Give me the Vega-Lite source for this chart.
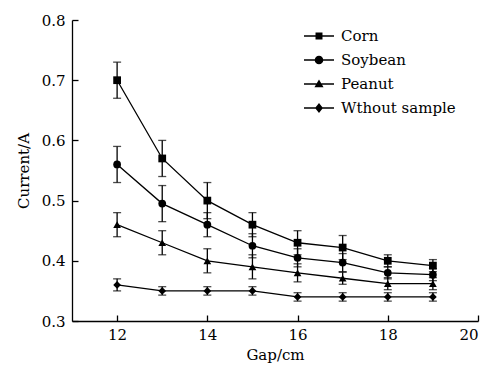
{
  "$schema": "https://vega.github.io/schema/vega-lite/v6.json",
  "autosize": "none",
  "width": 406,
  "height": 301,
  "padding": {"left": 72, "top": 20, "right": 17, "bottom": 46},
  "background": "white",
  "config": {
    "font": "DejaVu Serif",
    "view": {"stroke": null},
    "axis": {
      "grid": false,
      "domainColor": "black",
      "domainWidth": 1.3,
      "tickColor": "black",
      "tickWidth": 1.3,
      "tickSize": -6,
      "labelColor": "black",
      "titleColor": "black",
      "labelFont": "DejaVu Serif",
      "titleFont": "DejaVu Serif",
      "labelFontSize": 15,
      "titleFontSize": 15,
      "titleFontWeight": "normal"
    },
    "legend": {
      "labelFont": "DejaVu Serif",
      "labelFontSize": 15,
      "labelColor": "black"
    }
  },
  "data": {
    "values": [
      {"series": "Corn", "gap": 12, "current": 0.70, "lo": 0.67, "hi": 0.73},
      {"series": "Corn", "gap": 13, "current": 0.57, "lo": 0.54, "hi": 0.60},
      {"series": "Corn", "gap": 14, "current": 0.50, "lo": 0.47, "hi": 0.53},
      {"series": "Corn", "gap": 15, "current": 0.46, "lo": 0.44, "hi": 0.48},
      {"series": "Corn", "gap": 16, "current": 0.43, "lo": 0.41, "hi": 0.45},
      {"series": "Corn", "gap": 17, "current": 0.422, "lo": 0.402, "hi": 0.442},
      {"series": "Corn", "gap": 18, "current": 0.40, "lo": 0.39, "hi": 0.41},
      {"series": "Corn", "gap": 19, "current": 0.392, "lo": 0.382, "hi": 0.402},
      {"series": "Soybean", "gap": 12, "current": 0.56, "lo": 0.53, "hi": 0.59},
      {"series": "Soybean", "gap": 13, "current": 0.495, "lo": 0.465, "hi": 0.525},
      {"series": "Soybean", "gap": 14, "current": 0.46, "lo": 0.44, "hi": 0.48},
      {"series": "Soybean", "gap": 15, "current": 0.425, "lo": 0.405, "hi": 0.445},
      {"series": "Soybean", "gap": 16, "current": 0.405, "lo": 0.39, "hi": 0.42},
      {"series": "Soybean", "gap": 17, "current": 0.397, "lo": 0.382, "hi": 0.412},
      {"series": "Soybean", "gap": 18, "current": 0.38, "lo": 0.37, "hi": 0.39},
      {"series": "Soybean", "gap": 19, "current": 0.377, "lo": 0.367, "hi": 0.387},
      {"series": "Peanut", "gap": 12, "current": 0.46, "lo": 0.44, "hi": 0.48},
      {"series": "Peanut", "gap": 13, "current": 0.43, "lo": 0.41, "hi": 0.45},
      {"series": "Peanut", "gap": 14, "current": 0.40, "lo": 0.38, "hi": 0.42},
      {"series": "Peanut", "gap": 15, "current": 0.39, "lo": 0.37, "hi": 0.41},
      {"series": "Peanut", "gap": 16, "current": 0.38, "lo": 0.365, "hi": 0.395},
      {"series": "Peanut", "gap": 17, "current": 0.371, "lo": 0.361, "hi": 0.381},
      {"series": "Peanut", "gap": 18, "current": 0.362, "lo": 0.352, "hi": 0.372},
      {"series": "Peanut", "gap": 19, "current": 0.362, "lo": 0.352, "hi": 0.372},
      {"series": "Wthout sample", "gap": 12, "current": 0.36, "lo": 0.35, "hi": 0.37},
      {"series": "Wthout sample", "gap": 13, "current": 0.35, "lo": 0.343, "hi": 0.357},
      {"series": "Wthout sample", "gap": 14, "current": 0.35, "lo": 0.343, "hi": 0.357},
      {"series": "Wthout sample", "gap": 15, "current": 0.35, "lo": 0.343, "hi": 0.357},
      {"series": "Wthout sample", "gap": 16, "current": 0.34, "lo": 0.333, "hi": 0.347},
      {"series": "Wthout sample", "gap": 17, "current": 0.34, "lo": 0.333, "hi": 0.347},
      {"series": "Wthout sample", "gap": 18, "current": 0.34, "lo": 0.333, "hi": 0.347},
      {"series": "Wthout sample", "gap": 19, "current": 0.34, "lo": 0.333, "hi": 0.347}
    ]
  },
  "encoding": {
    "x": {
      "field": "gap", "type": "quantitative",
      "scale": {"domain": [11, 20], "nice": false, "zero": false},
      "axis": {"values": [12, 14, 16, 18, 20], "title": "Gap/cm", "labelPadding": 12, "titlePadding": 5}
    }
  },
  "layer": [
    {
      "mark": {"type": "errorbar", "color": "black", "thickness": 1.3, "ticks": {"size": 8, "thickness": 1.3}},
      "encoding": {
        "y": {"field": "lo", "type": "quantitative", "scale": {"domain": [0.3, 0.8], "nice": false, "zero": false}, "title": "Current/A"},
        "y2": {"field": "hi"}
      }
    },
    {
      "mark": {"type": "line", "color": "black", "strokeWidth": 1.3},
      "encoding": {
        "y": {"field": "current", "type": "quantitative"},
        "detail": {"field": "series"}
      }
    },
    {
      "mark": {"type": "point", "filled": true, "color": "black", "opacity": 1, "size": 60},
      "encoding": {
        "y": {
          "field": "current", "type": "quantitative",
          "scale": {"domain": [0.3, 0.8], "nice": false, "zero": false},
          "axis": {"values": [0.3, 0.4, 0.5, 0.6, 0.7, 0.8], "format": ".1f", "title": "Current/A", "labelPadding": 13, "titlePadding": 10}
        },
        "shape": {
          "field": "series", "type": "nominal",
          "scale": {"domain": ["Corn", "Soybean", "Peanut", "Wthout sample"], "range": ["square", "circle", "triangle-up", "diamond"]},
          "legend": null
        }
      }
    },
    {
      "transform": [{"filter": "datum.gap > 100"}],
      "mark": {"type": "point", "filled": true, "color": "black", "opacity": 1, "size": 576, "strokeWidth": 1.3},
      "encoding": {
        "y": {"field": "current", "type": "quantitative"},
        "shape": {
          "field": "series", "type": "nominal",
          "scale": {
            "domain": ["Corn", "Soybean", "Peanut", "Wthout sample"],
            "range": [
              "M-1.25,-0.055H-0.2V0.055H-1.25Z M0.2,-0.055H1.25V0.055H0.2Z M-0.29,-0.29H0.29V0.29H-0.29Z",
              "M-1.25,-0.055H-0.2V0.055H-1.25Z M0.2,-0.055H1.25V0.055H0.2Z M-0.36,0A0.36,0.36,0,1,1,0.36,0A0.36,0.36,0,1,1,-0.36,0Z",
              "M-1.25,-0.055H-0.2V0.055H-1.25Z M0.2,-0.055H1.25V0.055H0.2Z M0,-0.38L0.38,0.28L-0.38,0.28Z",
              "M-1.25,-0.055H-0.2V0.055H-1.25Z M0.2,-0.055H1.25V0.055H0.2Z M0,-0.42L0.33,0L0,0.42L-0.33,0Z"
            ]
          },
          "legend": {
            "title": null,
            "orient": "none",
            "legendX": 234,
            "legendY": 3,
            "symbolSize": 576,
            "labelOffset": 9,
            "rowPadding": 3,
            "padding": 0,
            "symbolOpacity": 1,
            "encode": {
              "symbols": {
                "fill": {"value": "black"},
                "stroke": {"value": "black"},
                "strokeWidth": {"value": 1.3}
              }
            }
          }
        }
      }
    }
  ],
  "resolve": {"scale": {"shape": "independent"}}
}
